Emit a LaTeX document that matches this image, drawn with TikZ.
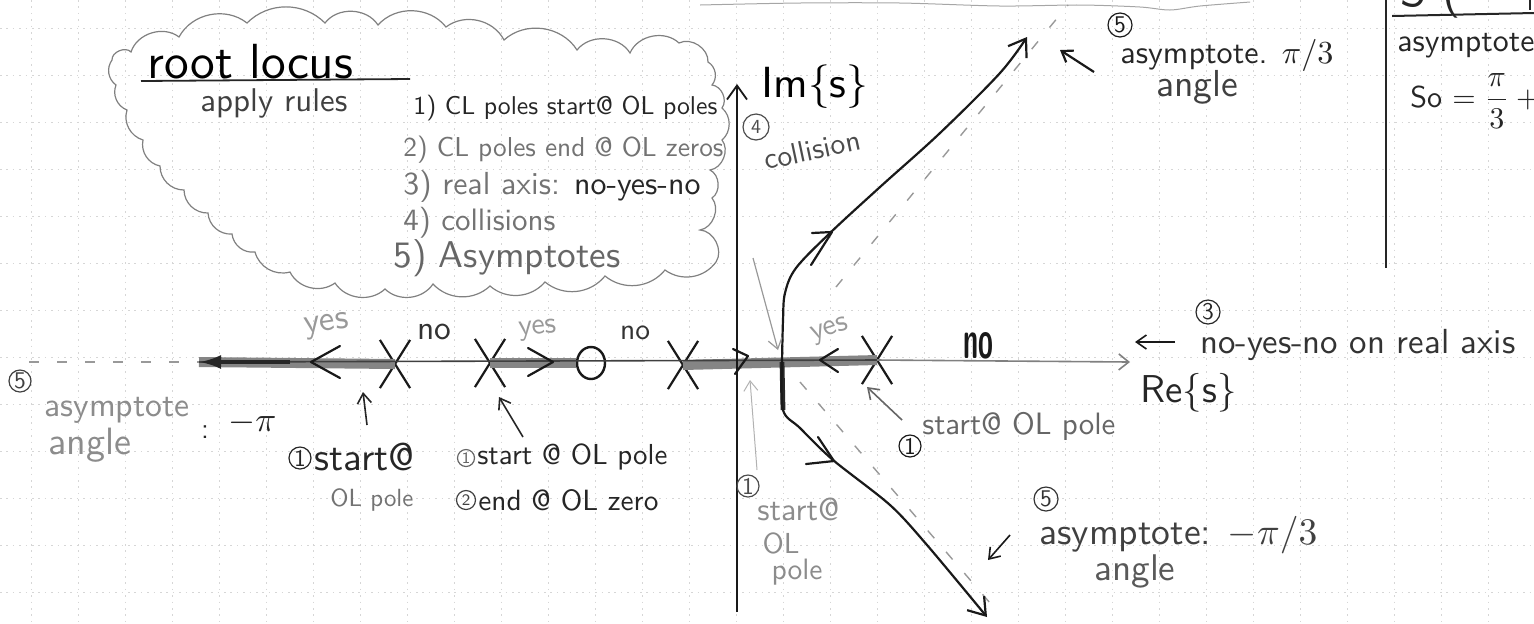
\documentclass[tikz,border=0pt]{standalone}
\usepackage{fontspec}
\usepackage{graphicx}
\usetikzlibrary{arrows.meta,shapes.misc,shapes.geometric}
\newcommand{\hw}[2]{\resizebox{#1}{!}{\sffamily #2}}
\begin{document}
\begin{tikzpicture}[x=0.5pt,y=-0.5pt,
  gridline/.style={black!16, line width=0.35pt, dash pattern=on 0.8pt off 2.4pt},
  txt/.style={inner sep=0pt, anchor=west},
  lbl/.style={inner sep=0pt},
  num/.style={circle, draw, line width=0.6pt, inner sep=0pt, minimum size=#1, font=\sffamily\large},
  cloudline/.style={black!50, line width=0.6pt},
  band/.style={black!48, line width=5pt},
  branch/.style={black!90, line width=1.1pt},
  chev/.style={black!90, line width=1.1pt, line cap=round, line join=round},
  pointer/.style={line width=0.8pt, -{Straight Barb[length=5pt,width=7pt]}},
  polex/.style={draw, cross out, black!90, line width=1.1pt, minimum width=14pt, minimum height=23pt, inner sep=0pt},
  zerox/.style={draw, ellipse, black!90, line width=1.2pt, minimum width=14pt, minimum height=16pt, inner sep=0pt},
  asym/.style={black!40, line width=0.7pt, dash pattern=on 5pt off 9pt},
]
\useasboundingbox (0,0) rectangle (1534,623);
% graph paper
\foreach \gx in {31,78,...,1534} \draw[gridline] (\gx,0) -- (\gx,623);
\foreach \gy in {28,75,...,623} \draw[gridline] (0,\gy) -- (1534,\gy);

% key points
\coordinate (dl) at (29,362);
\coordinate (bl) at (199,362);
\coordinate (bk) at (782,362);
\coordinate (rr) at (1130,362);
\coordinate (imb) at (737,612);
\coordinate (imt) at (737,84);

% cloud
\draw[cloudline] (112,60) to[bend left=70] (131,52) to[bend left=55] (179,37) to[bend left=50] (247,23)
  to[bend left=45] (325,23) to[bend left=55] (378,25) to[bend left=50] (446,27) to[bend left=50] (504,40)
  to[bend left=50] (577,50) to[bend left=55] (630,53) to[bend left=55] (679,43) to[bend left=60] (708,62)
  to[bend left=50] (712,85) to[bend left=60] (722,108) to[bend left=50] (722,140) to[bend left=60] (710,170)
  to[bend left=60] (712,198) to[bend left=60] (700,230) to[bend left=60] (716,262) to[bend left=45] (665,270)
  to[bend left=45] (605,276) to[bend left=45] (545,282) to[bend left=45] (490,286) to[bend left=45] (433,284)
  to[bend left=50] (385,289) to[bend left=50] (335,283) to[bend left=50] (290,272) to[bend left=45] (255,252)
  to[bend left=45] (232,234) to[bend left=45] (208,213) to[bend left=45] (184,190) to[bend left=45] (160,166)
  to[bend left=45] (143,140) to[bend left=45] (127,110) to[bend left=45] (116,85) to[bend left=45] (112,60);

% top wavy edge
\draw[black!35, line width=0.5pt] plot[smooth] coordinates {(700,5) (800,3) (900,3) (1000,6) (1080,5) (1140,7) (1170,10) (1200,6) (1250,2)};

% cloud texts
\node[txt, black] (title) at (147,62) {\hw{103pt}{root locus}};
\coordinate (ul1) at (141,81);
\coordinate (ul2) at (410,79);
\draw[black!85, line width=0.9pt] (ul1) -- (ul2);
\node[txt, black!75] (apply) at (200,103) {\hw{73.5pt}{apply rules}};
\node[txt, black!85] (r1) at (413,108) {\hw{152pt}{1) CL poles start@ OL poles}};
\node[txt, black!55] (r2) at (403,150) {\hw{160pt}{2) CL poles end @ OL zeros}};
\node[txt, black!55] (r3) at (403,187) {\hw{148.5pt}{3) real axis: \textcolor{black!85}{no-yes-no}}};
\node[txt, black!55] (r4) at (403,223) {\hw{76pt}{4) collisions}};
\node[txt, black!60] (r5) at (393,258) {\hw{113.5pt}{5) Asymptotes}};

% poles and zero
\node[polex] (p1) at (395,364) {};
\node[polex] (p2) at (490,363) {};
\node[zerox] (z1) at (591,363) {};
\node[polex] (p3) at (683,365) {};
\node[polex] (p4) at (877,360) {};

% real axis
\draw[asym] (dl) -- (bl);
\draw[band] (bl) -- (p1.center);
\draw[band] (p2.center) -- (z1.west);
\draw[band] (p3.center) -- (p4.center);
\draw[black!75, line width=0.8pt] (bl) -- (p4.center);
\draw[black!50, line width=0.8pt, -{Straight Barb[length=5pt,width=8pt]}] (p4.center) -- (rr);
\draw[black!85, line width=2pt, -{Latex[length=11pt,width=7pt]}] (290,362) -- (bl);

% chevrons on the real axis
\draw[chev] (340,346) -- (311,362) -- (340,378);
\draw[chev] (528,348) -- (553,362) -- (528,376);
\draw[chev] (733,349) -- (748,356) -- (735,374);
\draw[chev] (838,349) -- (820,360) -- (838,372);

% imaginary axis
\draw[black!90, line width=0.9pt, -{Straight Barb[length=7pt,width=10pt]}] (imb) -- (imt);

% asymptotes
\draw[asym] (836,287) -- (1068,5);
\draw[asym] (800,382) -- (990,603);

% branches
\draw[black!85, line width=2.4pt] (bk) -- (783,410);
\draw[branch, -{Straight Barb[length=8pt,width=11pt]}] plot[smooth, tension=0.55] coordinates {(bk) (783,320) (785,293) (796,268) (830,233) (880,187) (940,133) (1000,73) (1027,37)};
\draw[branch, -{Straight Barb[length=8pt,width=11pt]}] plot[smooth, tension=0.5] coordinates {(bk) (783,410) (800,428) (833,460) (890,505) (927,545) (987,617)};
\draw[chev] (812,233) -- (832,232) -- (811,265);
\draw[chev] (818,437) -- (834,461) -- (806,464);

% labels on the axis
\node[lbl, black!40, rotate=8] (y1) at (327,326) {\hw{22pt}{yes}};
\node[lbl, black!80] (n1) at (434,332) {\hw{17pt}{no}};
\node[lbl, black!40, rotate=5] (y2) at (538,330) {\hw{19pt}{yes}};
\node[lbl, black!80] (n2) at (635,333) {\hw{15pt}{no}};
\node[lbl, black!40, rotate=18] (y3) at (830,331) {\hw{19pt}{yes}};
\node[lbl, black!90] (n3) at (978,346) {\resizebox{15pt}{13pt}{\sffamily\bfseries no}};

\node[txt] (ims) at (761,87) {\hw{53.5pt}{Im\{s\}}};
\node[num=13pt, black!70, font=\sffamily\normalsize] (c4) at (756,127) {4};
\node[txt, black!70, rotate=12] (coll) at (764,160) {\hw{49pt}{collision}};
\coordinate (collp) at (753,258);
\draw[pointer, black!40, line width=0.6pt] (collp) -- (778,350);

% left labels
\node[num=11pt, black!75] (c5l) at (20,381) {5};
\node[txt, black!45] (asl) at (44,410) {\hw{72.5pt}{asymptote}};
\node[txt, black!45] (angl) at (48,445) {\hw{41.5pt}{angle}};
\node[lbl, black!85] (colon) at (205,432) {\sffamily\Large :};
\node[txt, black!85] (mpi) at (228,423) {\hw{24pt}{$-\pi$}};

\node[num=11pt, black!85] (c1a) at (300,458) {1};
\node[txt, black!85] (st1) at (314,457) {\hw{50pt}{start@}};
\node[txt, black!55] (olp1) at (330,500) {\hw{41.5pt}{OL pole}};
\coordinate (a1s) at (367,425);
\coordinate (a1e) at (363,392);
\draw[pointer, black!85] (a1s) -- (a1e);

\node[num=8.5pt, black!60, font=\sffamily\footnotesize] (c1b) at (466,458) {1};
\node[txt, black!85] (st2) at (477,457) {\hw{95pt}{start @ OL pole}};
\node[num=9.5pt, black!75, font=\sffamily\footnotesize] (c2b) at (466,500) {2};
\node[txt, black!85] (en2) at (478,500) {\hw{90pt}{end @ OL zero}};
\coordinate (a2s) at (523,437);
\coordinate (a2e) at (499,397);
\draw[pointer, black!85] (a2s) -- (a2e);

% lower near axis
\node[num=11pt, black!70] (c1c) at (748,486) {1};
\node[txt, black!45] (st3) at (757,509) {\hw{41pt}{start@}};
\node[lbl, black!45] (ol3) at (781,543) {\hw{18.5pt}{OL}};
\node[lbl, black!45] (po3) at (797,572) {\hw{25.5pt}{pole}};
\coordinate (a3s) at (757,470);
\coordinate (a3e) at (750,380);
\draw[pointer, black!30, line width=0.5pt] (a3s) -- (a3e);

% right labels
\node[num=11pt, black!90] (c1d) at (910,446) {1};
\node[txt, black!60] (st4) at (922,426) {\hw{96.5pt}{start@ OL pole}};
\coordinate (a4s) at (902,420);
\coordinate (a4e) at (867,387);
\draw[pointer, black!60] (a4s) -- (a4e);

\node[num=12pt, black!85] (c3) at (1208,312) {3};
\node[txt, black!80] (nyn) at (1200,345) {\hw{157.5pt}{no-yes-no on real axis}};
\coordinate (a5s) at (1175,342);
\coordinate (a5e) at (1135,342);
\draw[pointer, black!90] (a5s) -- (a5e);
\node[txt, black!85] (res) at (1140,393) {\hw{48pt}{Re\{s\}}};

% lower right
\node[num=12pt, black!80] (c5b) at (1046,499) {5};
\node[txt, black!75] (as3) at (1039,535) {\hw{139pt}{asymptote: $-\pi/3$}};
\node[txt, black!65] (ang3) at (1094,571) {\hw{40.5pt}{angle}};
\coordinate (a6s) at (1010,535);
\coordinate (a6e) at (988,560);
\draw[pointer, black!90] (a6s) -- (a6e);

% upper right
\node[num=12pt, black!90] (c5c) at (1120,25) {5};
\node[txt, black!85] (as4) at (1120,55) {\hw{106.5pt}{asymptote. $\pi/3$}};
\node[txt, black!75] (ang4) at (1156,87) {\hw{41pt}{angle}};
\coordinate (a7s) at (1094,72);
\coordinate (a7e) at (1060,50);
\draw[pointer, black!90, line width=1.1pt] (a7s) -- (a7e);

% box on the right
\coordinate (bx1) at (1386,-5);
\coordinate (bx2) at (1386,268);
\draw[black!85, line width=0.9pt] (bx1) -- (bx2);
\coordinate (bu1) at (1392,16);
\coordinate (bu2) at (1534,13);
\draw[black!85, line width=1pt] (bu1) -- (bu2);
\node[anchor=base west, inner sep=0pt, black!85] (topt) at (1400,6) {\hw{30pt}{S (}};
\coordinate (bar1) at (1530,0);
\coordinate (bar2) at (1530,10);
\draw[black!85, line width=0.8pt] (bar1) -- (bar2);
\node[txt, black!85] (as5) at (1397,46) {\hw{68.5pt}{asymptote}};
\node[txt, black!85] (so) at (1410,101) {\resizebox*{!}{27pt}{\sffamily So $=\displaystyle\frac{\pi}{3}+3$}};
\end{tikzpicture}
\end{document}
